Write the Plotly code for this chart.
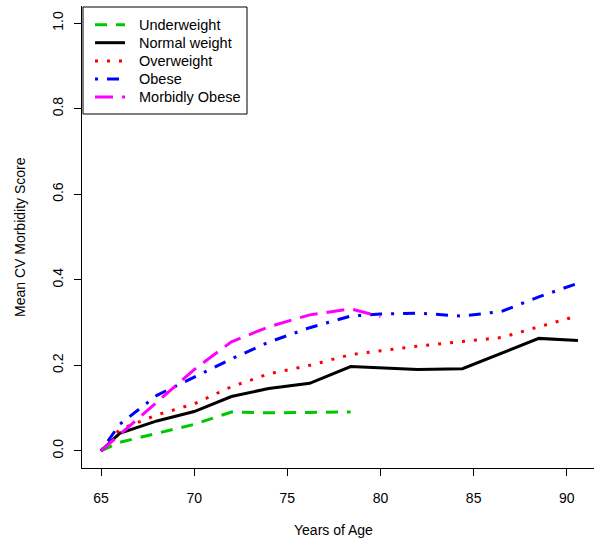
import plotly.graph_objects as go

# ---- data ----
series_names = ["Underweight", "Normal weight", "Overweight", "Obese", "Morbidly Obese"]

ages_under = [65, 66, 68, 70, 72, 74, 76.2, 78.4]
score_under = [0.0, 0.02, 0.041, 0.062, 0.091, 0.089, 0.09, 0.091]

ages_normal = [65, 66, 68, 70, 72, 74, 76.2, 78.4, 82, 84.4, 88.5, 90.6]
score_normal = [0.0, 0.041, 0.07, 0.092, 0.127, 0.146, 0.158, 0.197, 0.19, 0.192, 0.263, 0.258]

ages_over = [65, 66, 68, 70, 72, 74, 76.2, 78.4, 82, 84.4, 86.5, 88.5, 90.6]
score_over = [0.0, 0.05, 0.084, 0.11, 0.15, 0.18, 0.2, 0.225, 0.245, 0.255, 0.265, 0.29, 0.316]

ages_obese = [65, 66, 68, 70, 72, 74, 76.2, 78.4, 80, 82, 84.4, 86.5, 88.5, 90.6]
score_obese = [0.0, 0.062, 0.13, 0.173, 0.215, 0.254, 0.288, 0.315, 0.32, 0.322, 0.315, 0.326, 0.36, 0.392]

ages_morbid = [65, 66, 68, 70, 72, 74, 76.2, 78.4, 80]
score_morbid = [0.0, 0.038, 0.115, 0.19, 0.255, 0.29, 0.318, 0.332, 0.314]

x_ticks = [65, 70, 75, 80, 85, 90]
y_ticks = [0.0, 0.2, 0.4, 0.6, 0.8, 1.0]
y_tick_labels = ["0.0", "0.2", "0.4", "0.6", "0.8", "1.0"]

colors = ["#00C800", "#000000", "#FF0000", "#0000FF", "#FF00FF"]
dashes = ["12px,9px", "solid", "3px,9px", "3px,9px,12px,9px", "18px,9px"]

xs = [ages_under, ages_normal, ages_over, ages_obese, ages_morbid]
ys = [score_under, score_normal, score_over, score_obese, score_morbid]

FONT = "Liberation Sans, Arial, sans-serif"

W, H = 594, 542
ML, MR, MT, MB = 82, 0, 6, 74
PW, PH = W - ML - MR, H - MT - MB


def px_x(p):
    return (p - ML) / PW


def px_y(p):
    return (H - MB - p) / PH


fig = go.Figure()
for name, x, y, c, d in zip(series_names, xs, ys, colors, dashes):
    fig.add_trace(go.Scatter(x=x, y=y, mode="lines", name=name,
                             line=dict(color=c, width=3, dash=d)))

# manual legend (box, line samples, labels)
shapes = [dict(type="rect", xref="paper", yref="paper",
               x0=px_x(83), x1=px_x(247), y0=px_y(114), y1=px_y(7),
               line=dict(color="black", width=1), fillcolor="white", layer="above")]
annotations = []
row_y = [24.7, 42.7, 61, 79, 97]
for name, c, d, ry in zip(series_names, colors, dashes, row_y):
    shapes.append(dict(type="line", xref="paper", yref="paper",
                       x0=px_x(95), x1=px_x(125), y0=px_y(ry), y1=px_y(ry),
                       line=dict(color=c, width=3, dash=d), layer="above"))
    annotations.append(dict(text=name, xref="paper", yref="paper",
                            x=px_x(137), y=px_y(ry), xanchor="left", yanchor="middle",
                            showarrow=False, font=dict(size=14.5, color="black")))

annotations += [
    dict(text="Years of Age", xref="paper", yref="paper",
         x=px_x(333), y=px_y(530), xanchor="center", yanchor="middle",
         showarrow=False, font=dict(size=14)),
    dict(text="Mean CV Morbidity Score", xref="paper", yref="paper",
         x=px_x(20), y=0.5, xanchor="center", yanchor="middle",
         textangle=-90, showarrow=False, font=dict(size=14)),
]

fig.update_layout(
    width=W, height=H,
    margin=dict(l=ML, r=MR, t=MT, b=MB),
    paper_bgcolor="white", plot_bgcolor="white",
    font=dict(family=FONT, size=14, color="black"),
    showlegend=False,
    xaxis=dict(range=[63.98, 91.46], tickvals=x_ticks, ticks="outside", ticklen=7,
               tickcolor="black", showline=True, linecolor="black", linewidth=1,
               showgrid=False, zeroline=False, tickfont=dict(size=14),
               ticklabelstandoff=10),
    yaxis=dict(range=[-0.04, 1.04], tickvals=y_ticks, ticktext=y_tick_labels,
               ticks="outside", ticklen=7, tickangle=-90,
               tickcolor="black", showline=True, linecolor="black", linewidth=1,
               showgrid=False, zeroline=False, tickfont=dict(size=14),
               ticklabelstandoff=5),
    shapes=shapes,
    annotations=annotations,
)

fig.write_html("out.html", config={"displayModeBar": False},
               post_script="document.body.style.margin='0';")
